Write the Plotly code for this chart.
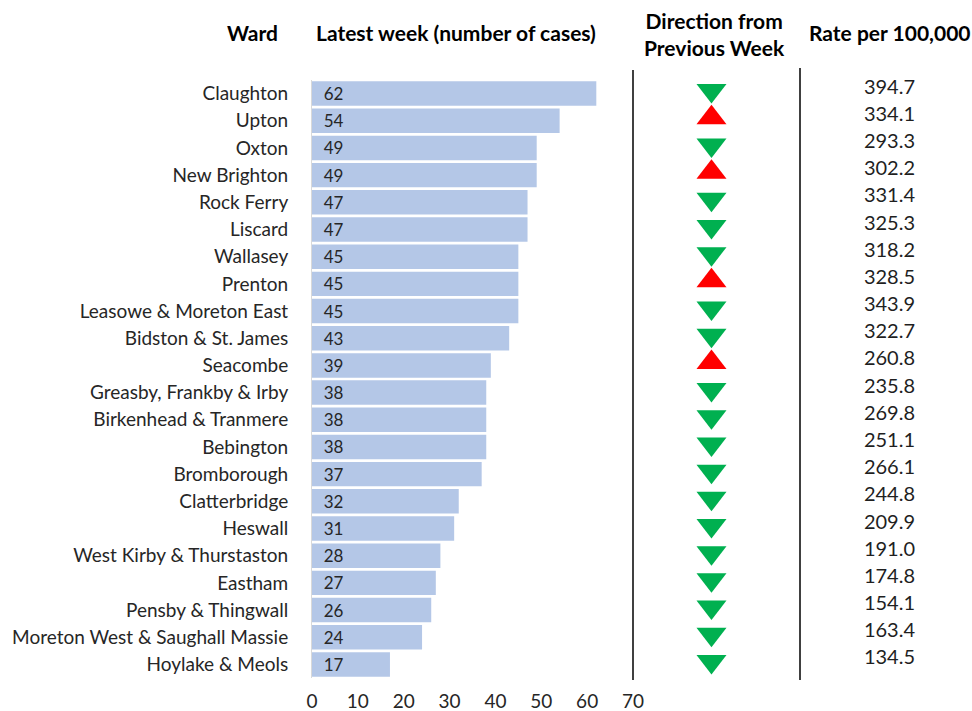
import plotly.graph_objects as go

wards = ["Claughton", "Upton", "Oxton", "New Brighton", "Rock Ferry", "Liscard",
         "Wallasey", "Prenton", "Leasowe & Moreton East", "Bidston & St. James",
         "Seacombe", "Greasby, Frankby & Irby", "Birkenhead & Tranmere", "Bebington",
         "Bromborough", "Clatterbridge", "Heswall", "West Kirby & Thurstaston",
         "Eastham", "Pensby & Thingwall", "Moreton West & Saughall Massie", "Hoylake & Meols"]
cases = [62, 54, 49, 49, 47, 47, 45, 45, 45, 43, 39, 38, 38, 38, 37, 32, 31, 28, 27, 26, 24, 17]
direction = ["down", "up", "down", "up", "down", "down", "down", "up", "down", "down",
             "up", "down", "down", "down", "down", "down", "down", "down", "down", "down",
             "down", "down"]
rates = [394.7, 334.1, 293.3, 302.2, 331.4, 325.3, 318.2, 328.5, 343.9, 322.7,
         260.8, 235.8, 269.8, 251.1, 266.1, 244.8, 209.9, 191.0, 174.8, 154.1,
         163.4, 134.5]
x_ticks = [0, 10, 20, 30, 40, 50, 60, 70]

W, H = 972, 711
FONT = "Lato, 'Open Sans', sans-serif"
TXT = "#262626"

def px(x):
    return x / W

def py(y):
    return 1 - y / H

n = len(wards)
fig = go.Figure()

fig.add_trace(go.Bar(
    y=wards, x=cases, orientation="h",
    marker=dict(color="#B4C7E7", line=dict(width=0)),
    text=["\u00a0\u00a0" + str(c) for c in cases], textposition="inside",
    insidetextanchor="start", textangle=0, constraintext="none",
    textfont=dict(family=FONT, size=17, color=TXT),
    cliponaxis=False, xaxis="x", yaxis="y", showlegend=False,
))

sym = ["triangle-down" if d == "down" else "triangle-up" for d in direction]
col = ["#00B050" if d == "down" else "#FF0000" for d in direction]
fig.add_trace(go.Scatter(
    y=wards, x=[0] * n, mode="markers",
    marker=dict(symbol=sym, color=col, size=26, line=dict(width=0)),
    xaxis="x2", yaxis="y2", showlegend=False, cliponaxis=False,
))

fig.add_trace(go.Scatter(
    y=wards, x=[0] * n, mode="text",
    text=[f"{r:.1f}" for r in rates],
    textfont=dict(family=FONT, size=20, color="#1F1F1F"),
    xaxis="x3", yaxis="y3", showlegend=False, cliponaxis=False,
))

cat = dict(type="category", categoryorder="array", categoryarray=wards,
           range=[n - 0.5, -0.5], autorange=False)

hdr = dict(family=FONT, size=21, color="black")

fig.update_layout(
    width=W, height=H, margin=dict(l=0, r=0, t=0, b=0, autoexpand=False),
    paper_bgcolor="white", plot_bgcolor="white",
    bargap=0.1,
    xaxis=dict(domain=[px(312), px(633)], range=[0, 70], tickvals=x_ticks,
               showgrid=False, zeroline=False, showline=False, ticks="",
               automargin=False,
               tickfont=dict(family=FONT, size=19, color=TXT), ticklabelstandoff=10),
    yaxis=dict(domain=[py(678), py(80)], **cat, showgrid=False, automargin=False,
               showline=True, linecolor="#D9D9D9", linewidth=1, ticks="",
               ticklabelstandoff=19,
               tickfont=dict(family=FONT, size=19, color=TXT)),
    xaxis2=dict(domain=[px(633), px(800)], range=[-0.47, 0.53], visible=False, anchor="y2"),
    yaxis2=dict(domain=[py(675), py(77)], **cat, visible=False, anchor="x2"),
    xaxis3=dict(domain=[px(800), px(972)], range=[-0.52, 0.48], visible=False, anchor="y3"),
    yaxis3=dict(domain=[py(673), py(75)], **cat, visible=False, anchor="x3"),
    shapes=[
        dict(type="line", xref="paper", yref="paper", x0=px(633), x1=px(633),
             y0=py(680), y1=py(70), line=dict(color="black", width=1.5)),
        dict(type="line", xref="paper", yref="paper", x0=px(800), x1=px(800),
             y0=py(680), y1=py(68), line=dict(color="black", width=1.5)),
    ],
    annotations=[
        dict(text="<b>Ward</b>", x=px(252), y=py(33), xref="paper", yref="paper",
             xanchor="center", yanchor="middle", showarrow=False, font=hdr),
        dict(text="<b>Latest week (number of cases)</b>", x=px(456), y=py(33),
             xref="paper", yref="paper", xanchor="center", yanchor="middle",
             showarrow=False, font=hdr),
        dict(text="<b>Direction from<br>Previous Week</b>", x=px(714), y=py(34),
             xref="paper", yref="paper", xanchor="center", yanchor="middle",
             showarrow=False, font=hdr),
        dict(text="<b>Rate per 100,000</b>", x=px(890), y=py(32), xref="paper",
             yref="paper", xanchor="center", yanchor="middle", showarrow=False,
             font=hdr),
    ],
)

fig.write_html("out.html", config={"responsive": False, "displayModeBar": False},
               post_script="document.body.style.margin='0px';document.body.style.overflow='hidden';")
